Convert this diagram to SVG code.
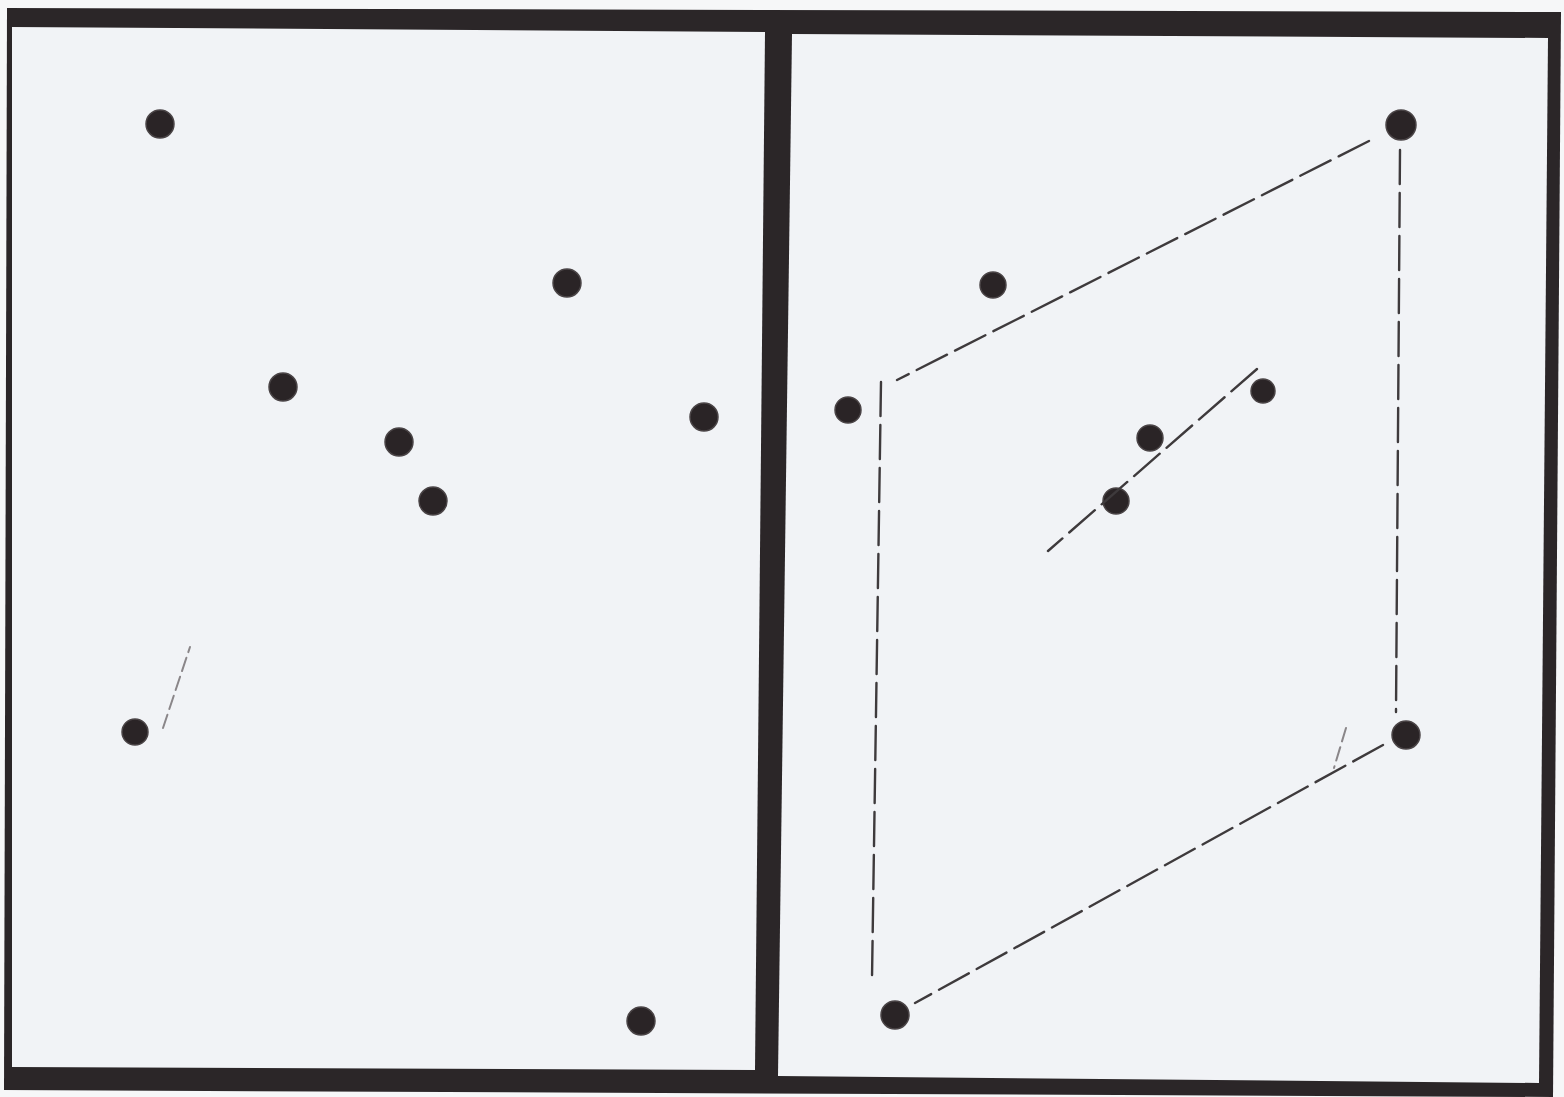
<svg xmlns="http://www.w3.org/2000/svg" width="1564" height="1097" viewBox="0 0 1564 1097">
  <style>
    .frame { fill: #2b2628; }
    .panel { fill: #f1f3f6; }
    .dot { fill: #2a2426; stroke: #4a4446; stroke-width: 1.5; }
    .dash { fill: none; stroke: #3e3a3c; stroke-width: 2.4; stroke-linecap: round; stroke-dasharray: 34 9; }
    .faint { fill: none; stroke: #8a8689; stroke-width: 2; stroke-linecap: round; stroke-dasharray: 14 6; }
  </style>
  <rect x="0" y="0" width="1564" height="1097" fill="#f6f7f8"/>
  <g id="frame">
    <polygon class="frame" points="7,8 1561,12 1553,1097 4,1090"/>
    <polygon class="panel" points="12,27 765,32 755,1070 12,1067"/>
    <polygon class="panel" points="792,34 1548,38 1539,1083 778,1076"/>
  </g>
  <g id="left-panel">
    <circle class="dot" cx="160" cy="124" r="14"/>
    <circle class="dot" cx="567" cy="283" r="14"/>
    <circle class="dot" cx="283" cy="387" r="14"/>
    <circle class="dot" cx="704" cy="417" r="14"/>
    <circle class="dot" cx="399" cy="442" r="14"/>
    <circle class="dot" cx="433" cy="501" r="14"/>
    <circle class="dot" cx="135" cy="732" r="13"/>
    <circle class="dot" cx="641" cy="1021" r="14"/>
  </g>
  <g id="right-panel">
    <circle class="dot" cx="1401" cy="125" r="15"/>
    <circle class="dot" cx="993" cy="285" r="13"/>
    <circle class="dot" cx="848" cy="410" r="13"/>
    <circle class="dot" cx="1263" cy="391" r="12"/>
    <circle class="dot" cx="1150" cy="438" r="13"/>
    <circle class="dot" cx="1116" cy="501" r="13"/>
    <circle class="dot" cx="1406" cy="735" r="14"/>
    <circle class="dot" cx="895" cy="1015" r="14"/>
  </g>
  <g id="connectors">
    <line class="faint" x1="163" y1="728" x2="190" y2="647"/>
    <line class="dash" x1="1369" y1="141" x2="897" y2="380"/>
    <line class="dash" x1="1400" y1="150" x2="1396" y2="712"/>
    <line class="dash" x1="881" y1="382" x2="872" y2="978"/>
    <line class="dash" x1="1383" y1="745" x2="915" y2="1003"/>
    <line class="dash" x1="1257" y1="369" x2="1048" y2="551"/>
    <line class="faint" x1="1346" y1="728" x2="1334" y2="768"/>
  </g>
</svg>
